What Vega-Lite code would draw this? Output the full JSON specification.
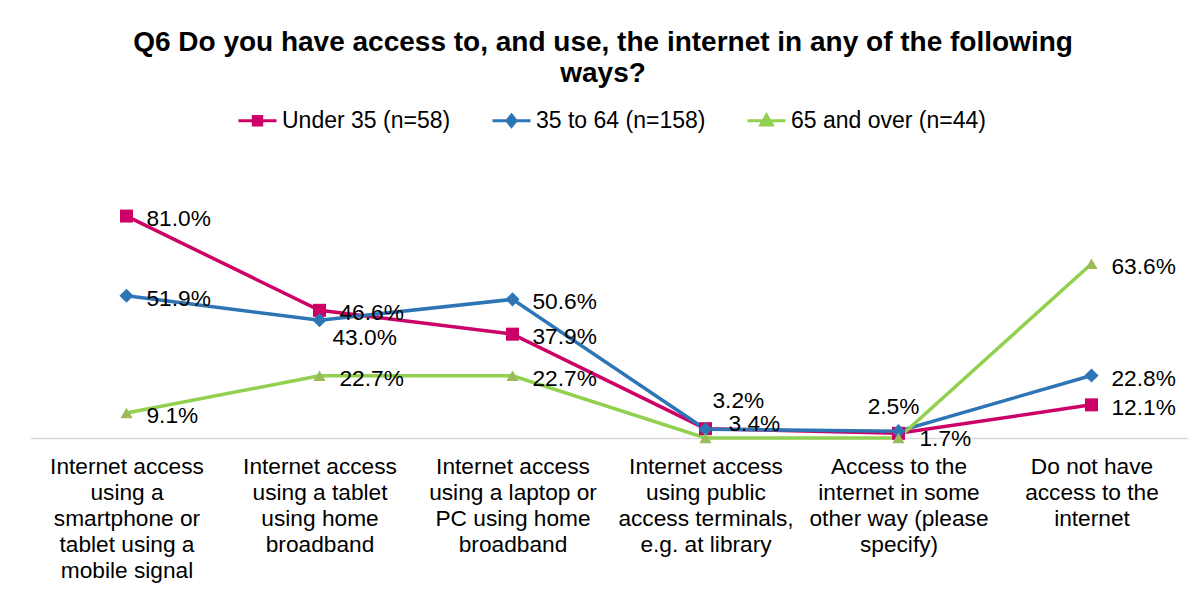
{
  "$schema": "https://vega.github.io/schema/vega-lite/v6.json",
  "width": 1158,
  "height": 274,
  "autosize": {"type": "none"},
  "padding": {"left": 30, "top": 164, "right": 15, "bottom": 154},
  "background": "white",
  "config": {"view": {"stroke": null}, "font": "Liberation Sans"},
  "title": {
    "text": ["Q6 Do you have access to, and use, the internet in any of the following", "ways?"],
    "fontSize": 28,
    "fontWeight": "bold",
    "color": "#000000",
    "anchor": "middle",
    "frame": "group",
    "dx": -6,
    "offset": 12,
    "lineHeight": 31,
    "font": "Liberation Sans"
  },
  "data": {
    "values": [
      {"cat": "Internet access|using a|smartphone or|tablet using a|mobile signal", "series": "Under 35 (n=58)", "value": 0.810},
      {"cat": "Internet access|using a tablet|using home|broadband", "series": "Under 35 (n=58)", "value": 0.466},
      {"cat": "Internet access|using a laptop or|PC using home|broadband", "series": "Under 35 (n=58)", "value": 0.379},
      {"cat": "Internet access|using public|access terminals,|e.g. at library", "series": "Under 35 (n=58)", "value": 0.034},
      {"cat": "Access to the|internet in some|other way (please|specify)", "series": "Under 35 (n=58)", "value": 0.017},
      {"cat": "Do not have|access to the|internet", "series": "Under 35 (n=58)", "value": 0.121},
      {"cat": "Internet access|using a|smartphone or|tablet using a|mobile signal", "series": "35 to 64 (n=158)", "value": 0.519},
      {"cat": "Internet access|using a tablet|using home|broadband", "series": "35 to 64 (n=158)", "value": 0.430},
      {"cat": "Internet access|using a laptop or|PC using home|broadband", "series": "35 to 64 (n=158)", "value": 0.506},
      {"cat": "Internet access|using public|access terminals,|e.g. at library", "series": "35 to 64 (n=158)", "value": 0.032},
      {"cat": "Access to the|internet in some|other way (please|specify)", "series": "35 to 64 (n=158)", "value": 0.025},
      {"cat": "Do not have|access to the|internet", "series": "35 to 64 (n=158)", "value": 0.228},
      {"cat": "Internet access|using a|smartphone or|tablet using a|mobile signal", "series": "65 and over (n=44)", "value": 0.091},
      {"cat": "Internet access|using a tablet|using home|broadband", "series": "65 and over (n=44)", "value": 0.227},
      {"cat": "Internet access|using a laptop or|PC using home|broadband", "series": "65 and over (n=44)", "value": 0.227},
      {"cat": "Internet access|using public|access terminals,|e.g. at library", "series": "65 and over (n=44)", "value": 0.0},
      {"cat": "Access to the|internet in some|other way (please|specify)", "series": "65 and over (n=44)", "value": 0.0},
      {"cat": "Do not have|access to the|internet", "series": "65 and over (n=44)", "value": 0.636}
    ]
  },
  "encoding": {
    "x": {
      "field": "cat",
      "type": "nominal",
      "sort": null,
      "scale": {"type": "point", "padding": 0.5},
      "axis": {
        "title": null,
        "labelAngle": 0,
        "labelExpr": "split(datum.label, '|')",
        "labelFontSize": 22.7,
        "labelFont": "Liberation Sans",
        "labelColor": "#000000",
        "labelLineHeight": 26,
        "labelBaseline": "top",
        "labelPadding": 17,
        "labelLimit": 400,
        "labelOverlap": false,
        "labelBound": false,
        "ticks": false,
        "domainColor": "#D9D9D9",
        "domainWidth": 1.5,
        "grid": false
      }
    },
    "y": {
      "field": "value",
      "type": "quantitative",
      "scale": {"domain": [0, 1]},
      "axis": null
    },
    "color": {
      "field": "series",
      "type": "nominal",
      "sort": null,
      "scale": {
        "domain": ["Under 35 (n=58)", "35 to 64 (n=158)", "65 and over (n=44)"],
        "range": ["#CC0066", "#2E75B6", "#92D050"]
      },
      "legend": {
        "title": null,
        "orient": "none",
        "direction": "horizontal",
        "legendX": 207,
        "legendY": -64,
        "padding": 0,
        "offset": 0,
        "symbolSize": 1444,
        "symbolStrokeWidth": 3,
        "labelFontSize": 23,
        "labelFont": "Liberation Sans",
        "labelColor": "#000000",
        "labelOffset": 4,
        "labelLimit": 400,
        "labelBaseline": "middle",
        "columnPadding": 35,
        "encode": {
          "symbols": {
            "update": {
              "shape": {"signal": "datum.value == 'Under 35 (n=58)' ? 'M-1,0H1M-0.22,-0.22H0.22V0.22H-0.22Z' : datum.value == '35 to 64 (n=158)' ? 'M-1,0H1M0,-0.3L0.24,0L0,0.3L-0.24,0Z' : 'M-1,0H1M0,-0.3L0.3,0.22H-0.3Z'"},
              "size": {"value": 1444},
              "fill": {"signal": "datum.value == '65 and over (n=44)' ? '#9BBB59' : scale('color', datum.value)"},
              "stroke": {"signal": "scale('color', datum.value)"},
              "strokeWidth": {"value": 3},
              "opacity": {"value": 1}
            }
          }
        }
      }
    }
  },
  "layer": [
    {"mark": {"type": "line", "strokeWidth": 3.5}},
    {
      "transform": [{"filter": "datum.series == 'Under 35 (n=58)'"}],
      "mark": {"type": "point", "filled": true, "opacity": 1, "shape": "square", "size": 169}
    },
    {
      "transform": [{"filter": "datum.series == '35 to 64 (n=158)'"}],
      "mark": {"type": "point", "filled": true, "opacity": 1, "shape": "diamond", "size": 200}
    },
    {
      "transform": [{"filter": "datum.series == '65 and over (n=44)'"}],
      "mark": {"type": "point", "filled": true, "opacity": 1, "shape": "triangle-up", "size": 150},
      "encoding": {"color": {"value": "#9BBB59"}}
    },
    {
      "transform": [
        {"filter": "datum.value > 0"},
        {"filter": "!(datum.series == '35 to 64 (n=158)' && (indexof(datum.cat, 'tablet|using home') >= 0 || indexof(datum.cat, 'public') >= 0 || indexof(datum.cat, 'other way') >= 0))"},
        {"filter": "!(datum.series == 'Under 35 (n=58)' && (indexof(datum.cat, 'public') >= 0 || indexof(datum.cat, 'other way') >= 0))"}
      ],
      "mark": {"type": "text", "align": "left", "baseline": "middle", "dx": 20, "dy": 3, "fontSize": 22.7, "font": "Liberation Sans"},
      "encoding": {"text": {"field": "value", "type": "quantitative", "format": ".1%"}, "color": {"value": "#000000"}}
    },
    {
      "transform": [{"filter": "datum.series == '35 to 64 (n=158)' && indexof(datum.cat, 'tablet|using home') >= 0"}],
      "mark": {"type": "text", "align": "left", "baseline": "middle", "dx": 13, "dy": 18, "fontSize": 22.7, "font": "Liberation Sans"},
      "encoding": {"text": {"field": "value", "type": "quantitative", "format": ".1%"}, "color": {"value": "#000000"}}
    },
    {
      "transform": [{"filter": "datum.series == '35 to 64 (n=158)' && indexof(datum.cat, 'public') >= 0"}],
      "mark": {"type": "text", "align": "left", "baseline": "middle", "dx": 7, "dy": -28, "fontSize": 22.7, "font": "Liberation Sans"},
      "encoding": {"text": {"field": "value", "type": "quantitative", "format": ".1%"}, "color": {"value": "#000000"}}
    },
    {
      "transform": [{"filter": "datum.series == 'Under 35 (n=58)' && indexof(datum.cat, 'public') >= 0"}],
      "mark": {"type": "text", "align": "left", "baseline": "middle", "dx": 23, "dy": -5, "fontSize": 22.7, "font": "Liberation Sans"},
      "encoding": {"text": {"field": "value", "type": "quantitative", "format": ".1%"}, "color": {"value": "#000000"}}
    },
    {
      "transform": [{"filter": "datum.series == '35 to 64 (n=158)' && indexof(datum.cat, 'other way') >= 0"}],
      "mark": {"type": "text", "align": "center", "baseline": "middle", "dx": -5, "dy": -24, "fontSize": 22.7, "font": "Liberation Sans"},
      "encoding": {"text": {"field": "value", "type": "quantitative", "format": ".1%"}, "color": {"value": "#000000"}}
    },
    {
      "transform": [{"filter": "datum.series == 'Under 35 (n=58)' && indexof(datum.cat, 'other way') >= 0"}],
      "mark": {"type": "text", "align": "left", "baseline": "middle", "dx": 21, "dy": 6, "fontSize": 22.7, "font": "Liberation Sans"},
      "encoding": {"text": {"field": "value", "type": "quantitative", "format": ".1%"}, "color": {"value": "#000000"}}
    }
  ]
}
